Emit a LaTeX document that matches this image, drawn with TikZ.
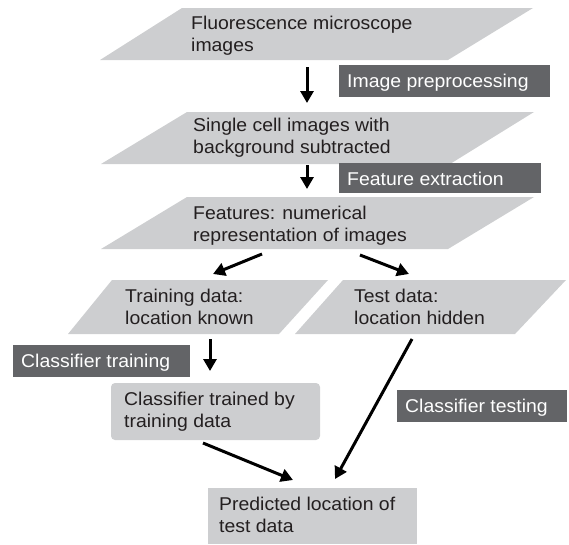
\documentclass[tikz,border=0pt]{standalone}
\usepackage{fontspec}
\setmainfont[FakeStretch=1.05]{Liberation Sans}
\usetikzlibrary{arrows.meta}
\definecolor{shapegray}{RGB}{205,206,208}
\definecolor{labelgray}{RGB}{99,100,103}
\definecolor{inkblack}{RGB}{35,31,32}
\tikzset{
  shapefill/.style={fill=shapegray},
  lblfill/.style={fill=labelgray},
  txt/.style={anchor=base west, inner sep=0pt, align=left, text=inkblack, font=\fontsize{18.5}{22}\selectfont},
  lbltxt/.style={anchor=base west, inner sep=0pt, text=white, font=\fontsize{18.5}{22}\selectfont},
  arr/.style={line width=3pt, draw=black, -{Triangle[length=12pt,width=13pt]}}
}
\begin{document}
\begin{tikzpicture}[x=1pt,y=-1pt]
\useasboundingbox (0,0) rectangle (569,544);
% shapes (base anchor of a two-line text = baseline of its last line)
\fill[shapefill] (100,60) -- (182,8) -- (533,8) -- (448,60) -- cycle;
\node[txt] (fluo) at (191,51.5) {Fluorescence microscope\\images};
\fill[lblfill] (339,65) rectangle (550,97);
\node[lbltxt] (ip) at (347,87.5) {Image preprocessing};

\fill[shapefill] (101,164) -- (187,112) -- (534,112) -- (450,164) -- cycle;
\node[txt] (single) at (193,153) {Single cell images with\\background subtracted};
\fill[lblfill] (339,163) rectangle (541,193);
\node[lbltxt] (fe) at (347,185) {Feature extraction};

\fill[shapefill] (101,249) -- (187,197) -- (534,197) -- (448,249) -- cycle;
\node[txt] (feat) at (193,241) {Features: numerical\\representation of images};

\fill[shapefill] (68,334) -- (112,280) -- (328,280) -- (279,334) -- cycle;
\node[txt] (train) at (125,324) {Training data:\\location known};
\fill[shapefill] (295,334) -- (343,280) -- (566,280) -- (515,334) -- cycle;
\node[txt] (test) at (354,324) {Test data:\\location hidden};

\fill[lblfill] (13,345) rectangle (190,377);
\node[lbltxt] (ct) at (21,367) {Classifier training};

\fill[shapefill, rounded corners=4pt] (111,383) rectangle (320,440);
\node[txt] (trained) at (124,427) {Classifier trained by\\training data};

\fill[lblfill] (397,390) rectangle (567,422);
\node[lbltxt] (ctest) at (405,412) {Classifier testing};

\fill[shapefill] (208,488) rectangle (417,544);
\node[txt] (pred) at (219,532) {Predicted location of\\test data};

% arrow end points
\coordinate (a1s) at (307,67);  \coordinate (a1e) at (307,103);
\coordinate (a2s) at (307,165); \coordinate (a2e) at (307,189);
\coordinate (a3s) at (262,254); \coordinate (a3e) at (213,274);
\coordinate (a4s) at (360,255); \coordinate (a4e) at (409,274);
\coordinate (a5s) at (210,339); \coordinate (a5e) at (210,371);
\coordinate (a6s) at (412,339); \coordinate (a6e) at (335,479);
\coordinate (a7s) at (203,443); \coordinate (a7e) at (293,480);
\draw[arr] (a1s) -- (a1e);
\draw[arr] (a2s) -- (a2e);
\draw[arr] (a3s) -- (a3e);
\draw[arr] (a4s) -- (a4e);
\draw[arr] (a5s) -- (a5e);
\draw[arr] (a6s) -- (a6e);
\draw[arr] (a7s) -- (a7e);
\end{tikzpicture}
\end{document}
